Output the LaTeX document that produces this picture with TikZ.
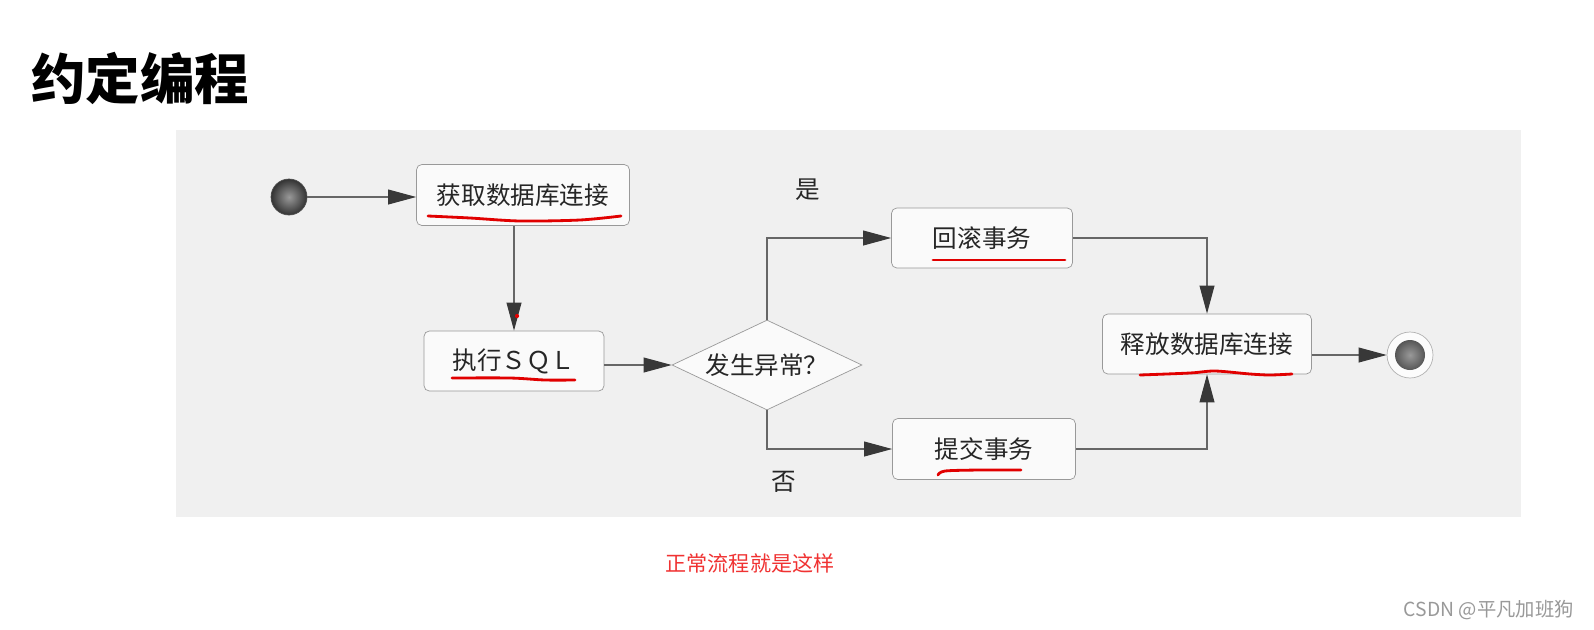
\documentclass[tikz,border=0pt]{standalone}
\usepackage{fontspec}
\setmainfont{Noto Sans CJK SC}
\usetikzlibrary{arrows.meta,shapes.geometric}
\definecolor{panelgray}{RGB}{240,240,240}
\definecolor{notered}{RGB}{240,50,50}
\definecolor{penred}{RGB}{225,0,0}

\begin{document}
\begin{tikzpicture}[x=0.02cm,y=-0.02cm,
  box/.style={draw=black!40,fill=black!2,rounded corners=3pt,inner sep=0pt,
    text=black!85,font=\fontsize{14}{14}\selectfont},
  cond/.style={diamond,aspect=2.1,draw=black!40,fill=black!2,inner sep=0pt,
    minimum width=3.8cm,minimum height=1.8cm,text=black!85,font=\fontsize{14}{14}\selectfont},
  arr/.style={draw=black!60,line width=0.6pt,
    -{Triangle[length=16pt,width=8.5pt,color=black!78]}},
  lbl/.style={text=black!85,font=\fontsize{14}{14}\selectfont},
  redline/.style={draw=penred,line width=1.6pt,line cap=round,line join=round}]
  \useasboundingbox (0,0) rectangle (1594,629);
  \fill[white] (0,0) rectangle (1594,629);
  \fill[panelgray] (176,130) rectangle (1521,517);
  \node[font=\bfseries\fontsize{31}{31}\selectfont] (title) at (140,78) {约定编程};
  \node[circle,minimum size=0.72cm,inner sep=0pt,draw=black!70,
    inner color=black!40,outer color=black!80] (start) at (289,197) {};
  \node[box,minimum width=4.26cm,minimum height=1.22cm] (get) at (523,195) {获取数据库连接};
  \node[box,minimum width=3.6cm,minimum height=1.2cm] (sql) at (514,361) {执行ＳＱＬ};
  \node[cond] (check) at (767,365) {发生异常？};
  \node[box,minimum width=3.62cm,minimum height=1.2cm] (rollback) at (982,238) {回滚事务};
  \node[box,minimum width=3.66cm,minimum height=1.22cm] (commit) at (984,449) {提交事务};
  \node[box,minimum width=4.18cm,minimum height=1.2cm] (release) at (1207,344) {释放数据库连接};
  \node[circle,minimum size=0.92cm,inner sep=0pt,draw=black!30,fill=black!1,
    path picture={\shade[inner color=black!40,outer color=black!80]
      (path picture bounding box.center) circle (0.3cm);}] (end) at (1410,355) {};
  \draw[arr] (start) -- (start -| get.west);
  \draw[arr] (get.south -| sql) -- (sql.north);
  \draw[arr] (sql.east |- check) -- (check);
  \draw[arr] (check.north) |- (rollback);
  \draw[arr] (check.south) |- (commit);
  \draw[arr] (rollback) -| (release);
  \draw[arr] (commit) -| (release);
  \draw[arr] (release.east |- end) -- (end);
  \node[lbl] (yes) at (808,190) {是};
  \node[lbl] (no) at (784,482) {否};
  \draw[redline] plot[smooth] coordinates {(428,216) (470,218) (520,221) (580,220) (621,216)};
  \draw[redline] plot[smooth] coordinates {(452,378) (510,378) (545,380) (575,380)};
  \draw[redline] (933,260) -- (1065,260);
  \draw[redline] plot[smooth] coordinates {(938,475) (945,471) (980,470) (1021,470)};
  \draw[redline] plot[smooth] coordinates {(1140,375) (1190,373) (1215,371) (1250,374) (1270,375) (1292,374)};
  \fill[penred] (517,316) circle (1.2pt);
  \node[text=notered,font=\fontsize{12}{12}\selectfont] (note) at (750,563) {正常流程就是这样};
  \node[anchor=east,text=black!40,font=\fontsize{11}{11}\selectfont] (csdn) at (1580,610) {CSDN @平凡加班狗};
\end{tikzpicture}
\end{document}
